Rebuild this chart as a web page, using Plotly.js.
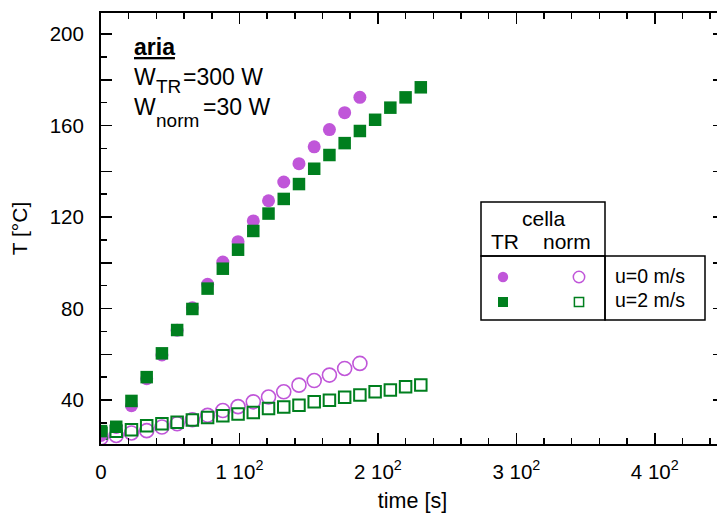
<!DOCTYPE html>
<html>
<head>
<meta charset="utf-8">
<script src="https://cdn.plot.ly/plotly-3.0.1.min.js"></script>
<style>
html, body { margin: 0; padding: 0; overflow: hidden; background: #fff; }
#chart { width: 730px; height: 516px; }
</style>
</head>
<body>
<div id="chart"></div>
<script>
// ---- data ----
const timeTR0 = [0, 11, 22, 33, 44, 55, 66, 77, 88, 99, 110, 121, 132, 143, 154, 165, 176, 187];
const tempTR0 = [24.5, 28.0, 37.5, 49.3, 59.7, 70.5, 80.3, 90.6, 100.3, 109.2, 118.3, 127.1, 135.3, 143.3, 150.7, 158.2, 165.6, 172.3];

const timeTR2 = [0, 11, 22, 33, 44, 55, 66, 77, 88, 99, 110, 121, 132, 143, 154, 165, 176, 187, 198, 209, 220, 231];
const tempTR2 = [26.4, 28.3, 39.6, 50.0, 60.4, 70.6, 79.8, 88.7, 97.4, 105.7, 113.9, 121.5, 127.9, 134.4, 141.1, 147.1, 152.3, 157.6, 162.5, 167.8, 172.3, 176.7];

const timeNorm0 = [0, 11, 22, 33, 44, 55, 66, 77, 88, 99, 110, 121, 132, 143, 154, 165, 176, 187];
const tempNorm0 = [23.5, 24.5, 25.6, 26.6, 28.2, 29.6, 31.4, 33.3, 35.4, 37.1, 39.2, 41.3, 43.6, 46.5, 48.5, 50.9, 53.8, 56.0];

const timeNorm2 = [0, 11, 22, 33, 44, 55, 66, 77, 88, 99, 110, 121, 132, 143, 154, 165, 176, 187, 198, 209, 220, 231];
const tempNorm2 = [25.5, 26.3, 27.0, 28.7, 29.6, 30.3, 31.3, 32.4, 33.1, 33.9, 34.5, 36.3, 36.9, 37.7, 39.2, 39.9, 41.2, 42.2, 43.6, 44.4, 45.8, 46.6];

const xTickVals = [0, 100, 200, 300, 400];
const xTickText = ['0', '1 10<sup>2</sup>', '2 10<sup>2</sup>', '3 10<sup>2</sup>', '4 10<sup>2</sup>'];
const yTickVals = [40, 60, 80, 100, 120, 140, 160, 180, 200];
const yTickText = ['40', '', '80', '', '120', '', '160', '', '200'];

// ---- styling ----
const PURPLE = '#c056d9';
const GREEN = '#007f1e';
const FONT = 'Liberation Sans, Arial, Helvetica, sans-serif';

const W = 730, H = 516;
const M = {l: 101, r: 6, t: 13, b: 72};
const PW = W - M.l - M.r, PH = H - M.t - M.b;
const px = x => (x - M.l) / PW;          // page pixel -> paper x
const py = y => (H - M.b - y) / PH;      // page pixel -> paper y

const traces = [
  {x: timeNorm0, y: tempNorm0, type: 'scatter', mode: 'markers', name: 'norm u=0',
   marker: {symbol: 'circle-open', size: 14, color: PURPLE, line: {width: 1.6, color: PURPLE}}},
  {x: timeNorm2, y: tempNorm2, type: 'scatter', mode: 'markers', name: 'norm u=2',
   marker: {symbol: 'square-open', size: 11.5, color: GREEN, line: {width: 2, color: GREEN}}},
  {x: timeTR0, y: tempTR0, type: 'scatter', mode: 'markers', name: 'TR u=0',
   marker: {symbol: 'circle', size: 13, color: PURPLE, line: {width: 0}}},
  {x: timeTR2, y: tempTR2, type: 'scatter', mode: 'markers', name: 'TR u=2',
   marker: {symbol: 'square', size: 12.5, color: GREEN, line: {width: 0}}}
];

const shapes = [];
const lineStyle = {color: '#000', width: 1.5};
function box(x0, y0, x1, y1) {
  shapes.push({type: 'rect', xref: 'paper', yref: 'paper', x0: px(x0), x1: px(x1), y0: py(y1), y1: py(y0),
               line: lineStyle, fillcolor: 'rgba(0,0,0,0)', layer: 'above'});
}
box(481, 202, 605, 256);
box(481, 256, 605, 320);
box(605, 256, 705, 320);

function legendMark(type, cx, cy, half, fill, lineColor, lw) {
  shapes.push({type: type, xref: 'paper', yref: 'paper', xsizemode: 'pixel', ysizemode: 'pixel',
               xanchor: px(cx), yanchor: py(cy), x0: -half, x1: half, y0: -half, y1: half,
               fillcolor: fill, line: {color: lineColor, width: lw}, layer: 'above'});
}
legendMark('circle', 503, 277, 5.2, PURPLE, PURPLE, 0);
legendMark('circle', 579, 277, 5.7, 'rgba(0,0,0,0)', PURPLE, 1.5);
legendMark('rect', 503, 302, 5, GREEN, GREEN, 0);
legendMark('rect', 579, 302, 4.6, 'rgba(0,0,0,0)', GREEN, 1.5);

function label(text, x, y, size, xanchor, bold) {
  return {text: text, xref: 'paper', yref: 'paper', x: px(x), y: py(y), xanchor: xanchor || 'left',
          yanchor: 'middle', showarrow: false,
          font: {family: FONT, size: size, color: '#000', weight: bold ? 'bold' : 'normal'}};
}
const annotations = [
  label('<u>aria</u>', 132, 47, 23, 'left', true),
  label('W', 132, 77, 23),
  label('TR', 154, 86.5, 19),
  label('=300 W', 181, 77, 23),
  label('W', 132, 107, 23),
  label('norm', 154, 120.5, 19),
  label('=30 W', 201, 107, 23),
  label('cella', 544, 218, 21, 'center'),
  label('TR', 505, 241, 21, 'center'),
  label('norm', 567, 241, 21, 'center'),
  label('u=0 m/s', 613, 276, 19.5),
  label('u=2 m/s', 613, 300, 19.5)
];

const axisCommon = {
  showline: true, linecolor: '#000', linewidth: 2, mirror: 'ticks',
  ticks: 'inside', tickcolor: '#000', tickwidth: 1.5, ticklen: 11,
  showgrid: false, zeroline: false, tickmode: 'array',
  tickfont: {family: FONT, size: 20.5, color: '#000'}
};

const layout = {
  width: W, height: H,
  margin: M,
  paper_bgcolor: '#fff', plot_bgcolor: '#fff',
  showlegend: false,
  font: {family: FONT, size: 20, color: '#000'},
  xaxis: Object.assign({}, axisCommon, {
    range: [0, 450], tickvals: xTickVals, ticktext: xTickText,
    minor: {dtick: 20, tick0: 0, ticks: 'inside', ticklen: 6, tickwidth: 1.5, tickcolor: '#000'},
    ticklabelstandoff: 8,
    title: {text: 'time [s]', font: {family: FONT, size: 21.5, color: '#000'}, standoff: 11}
  }),
  yaxis: Object.assign({}, axisCommon, {
    range: [20.77, 209.18], tickvals: yTickVals, ticktext: yTickText,
    minor: {dtick: 10, tick0: 0, ticks: 'inside', ticklen: 6, tickwidth: 1.5, tickcolor: '#000'},
    ticklabelstandoff: 11,
    title: {text: 'T [°C]', font: {family: FONT, size: 21, color: '#000'}, standoff: 16}
  }),
  shapes: shapes,
  annotations: annotations
};

Plotly.newPlot('chart', traces, layout, {displayModeBar: false, staticPlot: true});
</script>
</body>
</html>
